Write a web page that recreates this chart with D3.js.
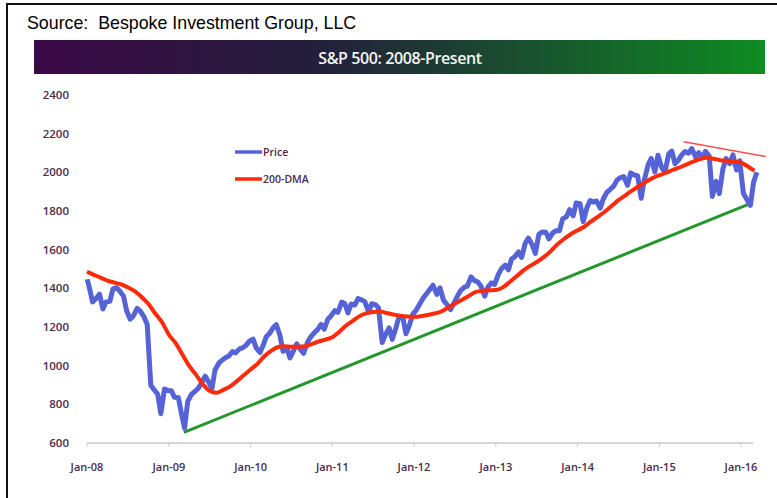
<!DOCTYPE html>
<html>
<head>
<meta charset="utf-8">
<script src="https://cdn.jsdelivr.net/npm/d3@7"></script>
<style>
  body { margin: 0; background: #fff; }
  svg { display: block; }
</style>
</head>
<body>
<svg id="chart" width="777" height="498"></svg>
<script>
// S&P 500 semi-monthly closes (mid month, late month)
const priceStart = 1447;
const price2008 = [1401, 1330, 1349, 1370, 1293, 1330, 1333, 1397, 1403, 1386, 1360, 1284, 1240, 1257, 1297, 1282, 1252, 1213, 899, 877, 852, 752, 879, 872];
const price2009 = [870, 836, 835, 752, 676, 815, 852, 866, 882, 910, 946, 918, 880, 978, 1013, 1028, 1042, 1050, 1073, 1066, 1087, 1092, 1106, 1126];
const price2010 = [1137, 1092, 1068, 1105, 1150, 1166, 1197, 1212, 1157, 1074, 1091, 1040, 1078, 1113, 1083, 1064, 1121, 1148, 1170, 1185, 1213, 1189, 1240, 1257];
const price2011 = [1285, 1276, 1329, 1320, 1273, 1319, 1314, 1347, 1340, 1331, 1279, 1320, 1316, 1300, 1120, 1160, 1195, 1136, 1195, 1254, 1251, 1165, 1211, 1265];
const price2012 = [1289, 1318, 1351, 1372, 1395, 1416, 1369, 1403, 1338, 1318, 1290, 1320, 1357, 1386, 1405, 1411, 1459, 1441, 1433, 1412, 1360, 1406, 1428, 1420];
const price2013 = [1472, 1502, 1520, 1496, 1552, 1563, 1588, 1560, 1633, 1660, 1626, 1580, 1680, 1691, 1690, 1656, 1687, 1698, 1698, 1759, 1770, 1807, 1775, 1842];
const price2014 = [1838, 1745, 1819, 1854, 1846, 1852, 1815, 1863, 1897, 1911, 1930, 1960, 1973, 1978, 1933, 1997, 1985, 1983, 1866, 1961, 2039, 2072, 2002, 2088];
const price2015 = [2023, 2000, 2096, 2110, 2045, 2061, 2091, 2108, 2099, 2123, 2079, 2102, 2076, 2108, 2084, 1875, 1953, 1890, 2017, 2071, 2045, 2090, 2012, 2060];
const price2016 = [1890, 1862, 1829, 1948, 2000];

// 200-day moving average, first of each month
const dma2008 = [1486, 1470, 1455, 1440, 1430, 1420, 1405, 1385, 1355, 1320, 1270, 1225];
const dma2009 = [1160, 1115, 1060, 1000, 955, 905, 870, 860, 875, 892, 920, 950];
const dma2010 = [980, 1010, 1046, 1075, 1095, 1100, 1098, 1098, 1100, 1112, 1125, 1135];
const dma2011 = [1147, 1175, 1205, 1230, 1255, 1270, 1278, 1280, 1272, 1265, 1258, 1254];
const dma2012 = [1253, 1256, 1262, 1270, 1280, 1300, 1320, 1340, 1360, 1380, 1388, 1390];
const dma2013 = [1391, 1405, 1430, 1460, 1490, 1515, 1535, 1560, 1590, 1625, 1655, 1680];
const dma2014 = [1700, 1720, 1745, 1770, 1795, 1825, 1855, 1880, 1905, 1928, 1950, 1970];
const dma2015 = [1985, 1998, 2012, 2025, 2040, 2055, 2068, 2075, 2070, 2063, 2060, 2056];
const dma2016 = [2050, 2030, 2008];

// hand-drawn trend lines [date, value]
const supportLine = [["2009-03-09", 655], ["2016-02-11", 1838]];
const resistanceLine = [["2015-04-20", 2158], ["2016-04-20", 2082]];

const yTicks = [600, 800, 1000, 1200, 1400, 1600, 1800, 2000, 2200, 2400];
const xTickYears = [2008, 2009, 2010, 2011, 2012, 2013, 2014, 2015, 2016];
const legendItems = [
  {label: "Price", color: "#5563d6"},
  {label: "200-DMA", color: "#ff2a0a"}
];

const priceYears = [price2008, price2009, price2010, price2011, price2012, price2013, price2014, price2015, price2016];
const dmaYears = [dma2008, dma2009, dma2010, dma2011, dma2012, dma2013, dma2014, dma2015, dma2016];

const priceData = [{date: new Date(2008, 0, 2), value: priceStart}];
priceYears.forEach((arr, yi) => {
  arr.forEach((v, i) => {
    priceData.push({date: new Date(2008 + yi, Math.floor(i / 2), i % 2 ? 26 : 12), value: v});
  });
});
const dmaData = [];
dmaYears.forEach((arr, yi) => {
  arr.forEach((v, i) => dmaData.push({date: new Date(2008 + yi, i, 1), value: v}));
});

const svg = d3.select("#chart");
const labelColor = "#4d2a4c";

// outer frame (runs off the right and bottom of the picture)
svg.append("rect")
  .attr("x", 7).attr("y", 4)
  .attr("width", 800).attr("height", 520)
  .attr("fill", "#fff")
  .attr("stroke", "#111").attr("stroke-width", 2);

svg.append("text")
  .attr("x", 27).attr("y", 29)
  .attr("font-family", "Arial, 'Liberation Sans', sans-serif")
  .attr("font-size", 17.8)
  .attr("fill", "#000")
  .style("white-space", "pre")
  .text("Source:  Bespoke Investment Group, LLC");

// title bar
const grad = svg.append("defs").append("linearGradient")
  .attr("id", "titleGrad").attr("x1", "0%").attr("x2", "100%");
grad.append("stop").attr("offset", "0%").attr("stop-color", "#3c0848");
grad.append("stop").attr("offset", "40%").attr("stop-color", "#23203a");
grad.append("stop").attr("offset", "100%").attr("stop-color", "#0e8c22");

svg.append("rect")
  .attr("x", 34).attr("y", 40)
  .attr("width", 731).attr("height", 34)
  .attr("fill", "url(#titleGrad)");

svg.append("text")
  .attr("x", 400).attr("y", 64)
  .attr("text-anchor", "middle")
  .attr("font-family", "'Open Sans', sans-serif")
  .attr("font-size", 16)
  .attr("font-weight", 600)
  .attr("letter-spacing", -0.4)
  .attr("fill", "#f4f4f4")
  .text("S&P 500: 2008-Present");

// scales
const x = d3.scaleTime()
  .domain([new Date(2008, 0, 1), new Date(2016, 0, 1)])
  .range([87, 741]);
const y = d3.scaleLinear().domain([600, 2400]).range([443, 95]);

// x axis
const xAxis = svg.append("g").attr("transform", "translate(0,443)");
xAxis.append("line")
  .attr("x1", 87).attr("x2", 753)
  .attr("stroke", "#c8c8c8").attr("stroke-width", 1.5);
xAxis.selectAll("line.tick")
  .data(xTickYears)
  .join("line")
  .attr("class", "tick")
  .attr("x1", d => x(new Date(d, 0, 1))).attr("x2", d => x(new Date(d, 0, 1)))
  .attr("y1", 0).attr("y2", 4)
  .attr("stroke", "#c8c8c8");
xAxis.selectAll("text")
  .data(xTickYears)
  .join("text")
  .attr("x", d => x(new Date(d, 0, 1)))
  .attr("y", 28)
  .attr("text-anchor", "middle")
  .attr("font-family", "'Open Sans', sans-serif")
  .attr("font-size", 11)
  .attr("font-weight", 600)
  .attr("fill", labelColor)
  .text(d => d3.timeFormat("Jan-%y")(new Date(d, 0, 1)));

// y labels
svg.append("g").selectAll("text")
  .data(yTicks)
  .join("text")
  .attr("x", 69)
  .attr("y", d => y(d) + 4)
  .attr("text-anchor", "end")
  .attr("font-family", "'Open Sans', sans-serif")
  .attr("font-size", 11.5)
  .attr("font-weight", 600)
  .attr("fill", labelColor)
  .text(d => d);

const line = d3.line()
  .x(d => x(d.date))
  .y(d => y(d.value));

// support trend
svg.append("path")
  .datum(supportLine.map(d => ({date: new Date(d[0]), value: d[1]})))
  .attr("d", line)
  .attr("fill", "none")
  .attr("stroke", "#22982c")
  .attr("stroke-width", 3);

svg.append("path")
  .datum(priceData)
  .attr("d", line)
  .attr("fill", "none")
  .attr("stroke", legendItems[0].color)
  .attr("stroke-width", 5)
  .attr("stroke-linejoin", "round");

svg.append("path")
  .datum(dmaData)
  .attr("d", line.curve(d3.curveMonotoneX))
  .attr("fill", "none")
  .attr("stroke", legendItems[1].color)
  .attr("stroke-width", 4)
  .attr("stroke-linejoin", "round");

// resistance trend
svg.append("path")
  .datum(resistanceLine.map(d => ({date: new Date(d[0]), value: d[1]})))
  .attr("d", line.curve(d3.curveLinear))
  .attr("fill", "none")
  .attr("stroke", "#ff4a4a")
  .attr("stroke-width", 1.5);

// legend
const legend = svg.append("g").selectAll("g")
  .data(legendItems)
  .join("g")
  .attr("transform", (d, i) => `translate(235,${152 + i * 27})`);
legend.append("line")
  .attr("x1", 0).attr("x2", 27)
  .attr("stroke", d => d.color)
  .attr("stroke-width", 3.5);
legend.append("text")
  .attr("x", 28).attr("y", 4)
  .attr("font-family", "'Open Sans', sans-serif")
  .attr("font-size", 10.5)
  .attr("font-weight", 600)
  .attr("fill", labelColor)
  .text(d => d.label);
</script>
</body>
</html>
